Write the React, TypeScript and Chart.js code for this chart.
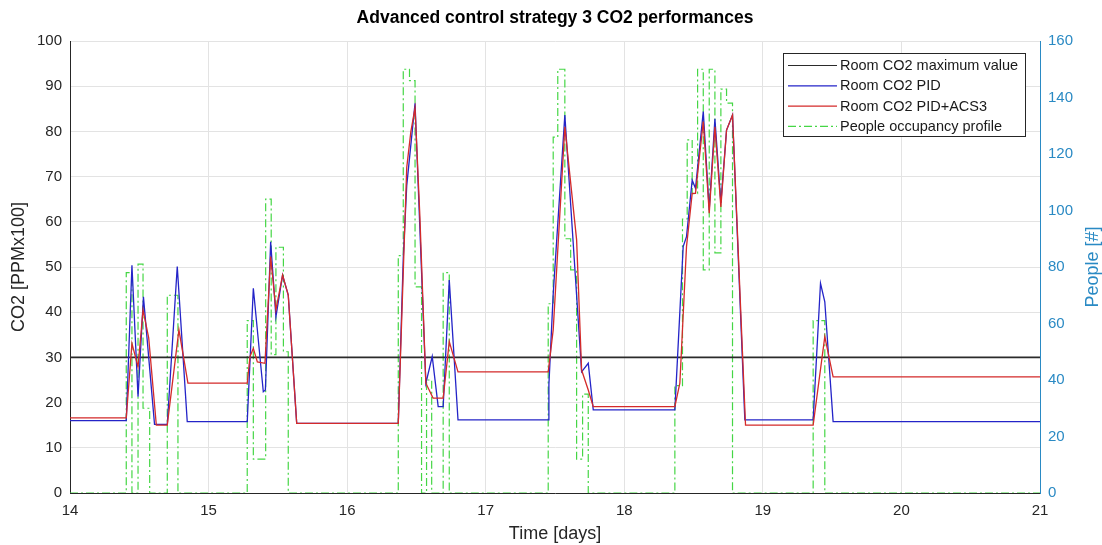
import { useEffect, useRef } from "react";
import { Chart, registerables } from "chart.js";

Chart.register(...registerables);

// Room CO2 with the plain PID controller [PPM x 100]
const pidTime = [
  14.0, 14.406, 14.447, 14.491, 14.53, 14.61, 14.702, 14.774, 14.846,
  15.279, 15.323, 15.395, 15.41, 15.448, 15.486, 15.534, 15.575, 15.636,
  16.369, 16.405, 16.43, 16.49, 16.568, 16.614, 16.657, 16.693, 16.737, 16.8,
  17.451, 17.456, 17.487, 17.571, 17.692, 17.74, 17.776,
  18.365, 18.425, 18.449, 18.49, 18.514, 18.57, 18.613, 18.654, 18.697, 18.738, 18.781, 18.87,
  19.363, 19.416, 19.447, 19.507, 21.0,
];
const pidCo2 = [
  16.0, 16.0, 50.4, 21.3, 43.4, 15.2, 15.2, 50.1, 15.8,
  15.8, 45.3, 22.4, 22.8, 55.6, 39.0, 48.2, 43.8, 15.4,
  15.4, 52.0, 68.0, 86.2, 24.3, 30.2, 19.1, 19.1, 47.1, 16.2,
  16.2, 24.0, 44.0, 83.6, 26.8, 28.7, 18.4,
  18.4, 54.5, 56.7, 69.2, 67.4, 84.4, 62.6, 82.8, 64.1, 80.3, 83.6, 16.2,
  16.2, 46.4, 42.3, 15.8, 15.8,
];

// Room CO2 with PID + advanced control strategy 3 [PPM x 100]
const acsTime = [
  14.0, 14.406, 14.447, 14.491, 14.527, 14.568, 14.623, 14.702, 14.786, 14.851,
  15.279, 15.299, 15.323, 15.352, 15.407, 15.448, 15.486, 15.534, 15.575, 15.636,
  16.369, 16.43, 16.46, 16.49, 16.525, 16.568, 16.62, 16.693, 16.737, 16.8,
  17.451, 17.487, 17.571, 17.656, 17.692, 17.74, 17.776,
  18.365, 18.401, 18.449, 18.49, 18.514, 18.57, 18.613, 18.654, 18.697, 18.738, 18.781, 18.875,
  19.363, 19.447, 19.507, 21.0,
];
const acsCo2 = [
  16.6, 16.6, 33.1, 27.9, 40.5, 34.3, 15.0, 15.0, 36.1, 24.3,
  24.3, 30.2, 32.0, 29.0, 28.7, 52.3, 40.5, 48.2, 43.8, 15.4,
  15.4, 72.0, 80.0, 85.2, 61.1, 24.3, 21.0, 21.0, 33.5, 26.8,
  26.8, 36.1, 81.0, 56.0, 27.2, 22.8, 19.1,
  19.1, 24.3, 54.5, 66.3, 66.3, 82.2, 61.9, 81.0, 63.3, 80.3, 83.6, 15.0,
  15.0, 34.6, 25.7, 25.7,
];

// People in the room; each value holds until the next change time
const occTime = [
  14.0, 14.406, 14.447, 14.491, 14.527, 14.575, 14.702, 14.779,
  15.279, 15.323, 15.412, 15.452, 15.486, 15.54, 15.575,
  16.369, 16.405, 16.45, 16.49, 16.537, 16.573, 16.61, 16.693, 16.737,
  17.451, 17.487, 17.52, 17.571, 17.613, 17.656, 17.699, 17.74,
  18.365, 18.42, 18.454, 18.49, 18.529, 18.57, 18.613, 18.654, 18.697, 18.738, 18.781,
  19.363, 19.447, 21.0,
];
const occPeople = [
  0, 78, 0, 81, 30, 0, 70, 0,
  61, 12, 104, 49, 87, 50, 0,
  84, 150, 146, 73, 0, 40, 0, 78, 0,
  67, 126, 150, 90, 79, 12, 35, 0,
  38, 97, 125, 106, 150, 79, 150, 85, 143, 138, 0,
  61, 0, 0,
];

const co2Limit = 30;
const dayRange = [14, 21];
const co2Range = [0, 100];
const peopleRange = [0, 160];

const TITLE = "Advanced control strategy 3 CO2 performances";
const RIGHT_TITLE = "People [#]";
const FONT = "'Liberation Sans', Arial, Helvetica, sans-serif";
const AXIS_DARK = "#262626";
const RIGHT_BLUE = "#2a8ac4";
const GRID = "#e3e3e3";

const PID_COLOR = "#2424c8";
const ACS_COLOR = "#d42a2a";
const OCC_COLOR = "#45d645";
const LIMIT_COLOR = "#2b2b2b";
const OCC_DASH = [8, 3, 2, 3];

const toPoints = (xs: number[], ys: number[]) => xs.map((x, i) => ({ x, y: ys[i] }));

// Right-axis title, rotated to read bottom-to-top like the left one
const rightAxisTitle = {
  id: "rightAxisTitle",
  afterDraw(chart: any) {
    const { ctx, chartArea } = chart;
    ctx.save();
    ctx.translate(1093, (chartArea.top + chartArea.bottom) / 2);
    ctx.rotate(-Math.PI / 2);
    ctx.font = `18px ${FONT}`;
    ctx.fillStyle = RIGHT_BLUE;
    ctx.textAlign = "center";
    ctx.textBaseline = "middle";
    ctx.fillText(RIGHT_TITLE, 0, 0);
    ctx.restore();
  },
};

// Legend box drawn inside the plot, top-right, with line samples
const boxLegend = {
  id: "boxLegend",
  afterDraw(chart: any) {
    const { ctx } = chart;
    const entries = [
      { idx: 2, dash: [] as number[] },
      { idx: 1, dash: [] as number[] },
      { idx: 0, dash: [] as number[] },
      { idx: 3, dash: OCC_DASH },
    ];
    const left = 783;
    const top = 53;
    const w = 242;
    const h = 83;
    ctx.save();
    ctx.fillStyle = "#ffffff";
    ctx.fillRect(left, top, w, h);
    ctx.strokeStyle = "#262626";
    ctx.lineWidth = 1;
    ctx.strokeRect(left + 0.5, top + 0.5, w, h);
    ctx.font = `14.5px ${FONT}`;
    ctx.textBaseline = "middle";
    entries.forEach((e, i) => {
      const ds = chart.data.datasets[e.idx];
      const y = top + 12.5 + i * 20.3;
      ctx.beginPath();
      ctx.setLineDash(e.dash);
      ctx.strokeStyle = ds.borderColor;
      ctx.lineWidth = 1.2;
      ctx.moveTo(left + 5, y);
      ctx.lineTo(left + 54, y);
      ctx.stroke();
      ctx.setLineDash([]);
      ctx.fillStyle = "#1a1a1a";
      ctx.fillText(ds.label, left + 57, y + 0.5);
    });
    ctx.restore();
  },
};

export default function App() {
  const canvasRef = useRef<HTMLCanvasElement | null>(null);

  useEffect(() => {
    if (!canvasRef.current) return;
    const chart = new Chart(canvasRef.current, {
      type: "line",
      data: {
        datasets: [
          {
            label: "Room CO2 PID+ACS3",
            data: toPoints(acsTime, acsCo2),
            borderColor: ACS_COLOR,
            borderWidth: 1.3,
            pointRadius: 0,
            yAxisID: "y",
          },
          {
            label: "Room CO2 PID",
            data: toPoints(pidTime, pidCo2),
            borderColor: PID_COLOR,
            borderWidth: 1.3,
            pointRadius: 0,
            yAxisID: "y",
          },
          {
            label: "Room CO2 maximum value",
            data: toPoints(dayRange, [co2Limit, co2Limit]),
            borderColor: LIMIT_COLOR,
            borderWidth: 1.6,
            pointRadius: 0,
            yAxisID: "y",
          },
          {
            label: "People occupancy profile",
            data: toPoints(occTime, occPeople),
            borderColor: OCC_COLOR,
            borderWidth: 1.2,
            borderDash: OCC_DASH,
            stepped: true,
            pointRadius: 0,
            yAxisID: "y1",
          },
        ],
      },
      options: {
        responsive: false,
        animation: false,
        devicePixelRatio: 1,
        layout: { padding: 0 },
        plugins: {
          legend: { display: false },
          tooltip: { enabled: false },
          title: {
            display: true,
            text: TITLE,
            fullSize: false,
            color: "#000000",
            font: { family: FONT, size: 17.5, weight: "bold" },
            padding: { top: 8, bottom: 12 },
          },
        },
        scales: {
          x: {
            type: "linear",
            min: dayRange[0],
            max: dayRange[1],
            afterFit: (s: any) => {
              s.height = 52;
            },
            ticks: {
              stepSize: 1,
              color: AXIS_DARK,
              font: { family: FONT, size: 15 },
              padding: 9,
            },
            grid: { color: GRID, drawTicks: false },
            border: { color: AXIS_DARK, width: 1 },
            title: {
              display: true,
              text: "Time [days]",
              color: AXIS_DARK,
              font: { family: FONT, size: 18 },
              padding: { top: 0, bottom: 0 },
            },
          },
          y: {
            position: "left",
            min: co2Range[0],
            max: co2Range[1],
            afterFit: (s: any) => {
              s.width = 70;
            },
            ticks: {
              stepSize: 10,
              color: AXIS_DARK,
              font: { family: FONT, size: 15 },
              padding: 8,
            },
            grid: { color: GRID, drawTicks: false },
            border: { color: AXIS_DARK, width: 1 },
            title: {
              display: true,
              text: "CO2 [PPMx100]",
              color: AXIS_DARK,
              font: { family: FONT, size: 18 },
              padding: { top: 8, bottom: 0 },
            },
          },
          y1: {
            position: "right",
            min: peopleRange[0],
            max: peopleRange[1],
            afterFit: (s: any) => {
              s.width = 62;
            },
            ticks: {
              stepSize: 20,
              color: RIGHT_BLUE,
              font: { family: FONT, size: 15 },
              padding: 8,
            },
            grid: { drawOnChartArea: false, drawTicks: false },
            border: { color: RIGHT_BLUE, width: 1 },
            title: { display: false },
          },
        },
      },
      plugins: [boxLegend, rightAxisTitle],
    });
    return () => chart.destroy();
  }, []);

  return (
    <div style={{ position: "fixed", left: 0, top: 0, width: 1102, height: 545, background: "#ffffff" }}>
      <canvas ref={canvasRef} width={1102} height={545} />
    </div>
  );
}
